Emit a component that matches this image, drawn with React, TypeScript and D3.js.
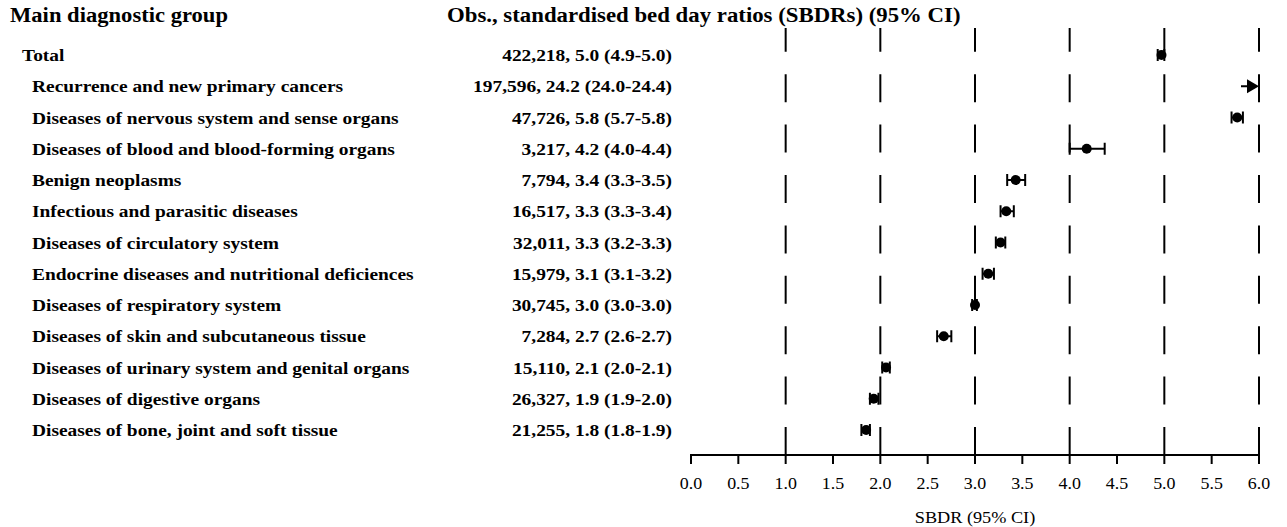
import { useEffect, useRef } from 'react';
import * as d3 from 'd3';

const groups = [
  'Total',
  'Recurrence and new primary cancers',
  'Diseases of nervous system and sense organs',
  'Diseases of blood and blood-forming organs',
  'Benign neoplasms',
  'Infectious and parasitic diseases',
  'Diseases of circulatory system',
  'Endocrine diseases and nutritional deficiences',
  'Diseases of respiratory system',
  'Diseases of skin and subcutaneous tissue',
  'Diseases of urinary system and genital organs',
  'Diseases of digestive organs',
  'Diseases of bone, joint and soft tissue',
];

const obsLabels = [
  '422,218, 5.0 (4.9-5.0)',
  '197,596, 24.2 (24.0-24.4)',
  '47,726, 5.8 (5.7-5.8)',
  '3,217, 4.2 (4.0-4.4)',
  '7,794, 3.4 (3.3-3.5)',
  '16,517, 3.3 (3.3-3.4)',
  '32,011, 3.3 (3.2-3.3)',
  '15,979, 3.1 (3.1-3.2)',
  '30,745, 3.0 (3.0-3.0)',
  '7,284, 2.7 (2.6-2.7)',
  '15,110, 2.1 (2.0-2.1)',
  '26,327, 1.9 (1.9-2.0)',
  '21,255, 1.8 (1.8-1.9)',
];

const sbdr = [4.97, 24.2, 5.77, 4.18, 3.43, 3.33, 3.27, 3.14, 3.0, 2.67, 2.06, 1.93, 1.85];
const lower = [4.93, 24.0, 5.71, 4.0, 3.34, 3.27, 3.22, 3.08, 2.97, 2.6, 2.02, 1.89, 1.8];
const upper = [5.0, 24.4, 5.83, 4.37, 3.53, 3.41, 3.32, 3.2, 3.02, 2.75, 2.1, 1.98, 1.89];

const tickValues = d3.range(0, 6.01, 0.5);
const refLines = [1, 2, 3, 4, 5, 6];

export default function App() {
  const ref = useRef<SVGSVGElement | null>(null);

  useEffect(() => {
    if (!ref.current) return;
    const svg = d3.select(ref.current);
    svg.selectAll('*').remove();

    const width = 1287;
    const height = 527;
    const axisY = 455;
    const font = '"Liberation Serif", "Times New Roman", serif';
    // the source figure's type is a bit wider than Times at the same height
    const stretch = (px: number, py: number, sx: number) => `translate(${px},${py}) scale(${sx},1)`;

    svg.attr('width', width).attr('height', height).style('font-family', font);

    const x = d3.scaleLinear().domain([0, 6]).range([691, 1259]);
    const y = d3.scalePoint<string>().domain(groups).range([55, 430]);

    // headers
    svg.append('text')
      .attr('transform', stretch(10, 22, 1.13))
      .attr('font-size', 20).attr('font-weight', 'bold')
      .text('Main diagnostic group');
    svg.append('text')
      .attr('transform', stretch(447, 22, 1.14))
      .attr('font-size', 20).attr('font-weight', 'bold')
      .text('Obs., standardised bed day ratios (SBDRs) (95% CI)');

    // row labels
    svg.append('g').selectAll('text')
      .data(groups)
      .enter()
      .append('text')
      .attr('transform', (d, i) => stretch(i === 0 ? 22 : 32, y(d)!, 1.11))
      .attr('dy', '0.35em')
      .attr('font-size', 17.5)
      .attr('font-weight', 'bold')
      .text(d => d);

    svg.append('g').selectAll('text')
      .data(obsLabels)
      .enter()
      .append('text')
      .attr('transform', (_, i) => stretch(672, y(groups[i])!, 1.11))
      .attr('dy', '0.35em')
      .attr('text-anchor', 'end')
      .attr('font-size', 17.5)
      .attr('font-weight', 'bold')
      .text(d => d);

    // dashed reference lines, drawn bottom-up so the pattern starts at the axis
    svg.append('g').selectAll('line')
      .data(refLines)
      .enter()
      .append('line')
      .attr('x1', d => x(d)).attr('x2', d => x(d))
      .attr('y1', axisY).attr('y2', 28)
      .attr('stroke', '#000')
      .attr('stroke-width', 2)
      .attr('stroke-dasharray', '28 22.4');

    // x axis
    const axis = svg.append('g');
    axis.append('line')
      .attr('x1', x(0) - 1).attr('x2', x(6) + 1)
      .attr('y1', axisY).attr('y2', axisY)
      .attr('stroke', '#000').attr('stroke-width', 2);
    axis.selectAll('line.tick')
      .data(tickValues)
      .enter()
      .append('line')
      .attr('class', 'tick')
      .attr('x1', d => x(d)).attr('x2', d => x(d))
      .attr('y1', axisY).attr('y2', axisY + 9)
      .attr('stroke', '#000').attr('stroke-width', 2);
    axis.selectAll('text')
      .data(tickValues)
      .enter()
      .append('text')
      .attr('transform', d => stretch(x(d), 489, 1.12))
      .attr('text-anchor', 'middle')
      .attr('font-size', 16)
      .text(d => d3.format('.1f')(d));
    svg.append('text')
      .attr('transform', stretch(x(3), 523, 1.14))
      .attr('text-anchor', 'middle')
      .attr('font-size', 16)
      .text('SBDR (95% CI)');

    // estimates with CI
    const xMax = 6;
    const rows = groups.map((g, i) => ({ g, v: sbdr[i], lo: lower[i], hi: upper[i] }));
    const marks = svg.append('g');
    rows.forEach(r => {
      const cy = y(r.g)!;
      if (r.v > xMax) {
        // off-scale estimate: arrow pointing at the axis end
        const tip = x(xMax);
        marks.append('line')
          .attr('x1', tip - 18).attr('x2', tip - 8)
          .attr('y1', cy).attr('y2', cy)
          .attr('stroke', '#000').attr('stroke-width', 2);
        marks.append('path')
          .attr('d', `M${tip - 12},${cy - 7}L${tip},${cy}L${tip - 12},${cy + 7}Z`)
          .attr('fill', '#000');
        return;
      }
      marks.append('line')
        .attr('x1', x(r.lo)).attr('x2', x(r.hi))
        .attr('y1', cy).attr('y2', cy)
        .attr('stroke', '#000').attr('stroke-width', 2);
      [r.lo, r.hi].forEach(b => {
        marks.append('line')
          .attr('x1', x(b)).attr('x2', x(b))
          .attr('y1', cy - 6).attr('y2', cy + 6)
          .attr('stroke', '#000').attr('stroke-width', 2);
      });
      marks.append('circle')
        .attr('cx', x(r.v)).attr('cy', cy)
        .attr('r', 5)
        .attr('fill', '#000');
    });
  }, []);

  return (
    <div style={{ position: 'absolute', left: 0, top: 0 }}>
      <svg ref={ref}></svg>
    </div>
  );
}
